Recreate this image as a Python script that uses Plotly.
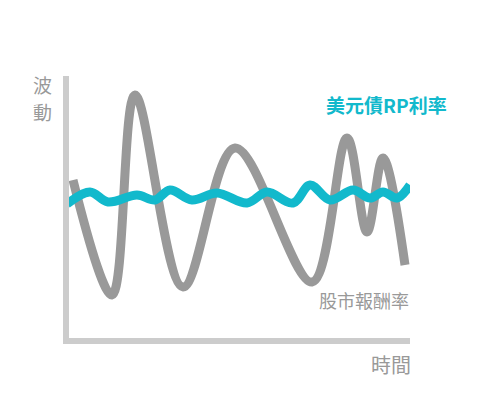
import plotly.graph_objects as go

'''示意資料：時間 vs 波動'''
# 股市報酬率
stock_t = [7, 46, 69, 117, 169, 246, 281, 301, 317, 339]
stock_v = [161, 46, 246, 54, 193, 59, 203, 109, 183, 76]
# 美元債RP利率
rp_t = [1, 24, 42, 71, 89, 104, 126, 151, 181, 201, 227, 244, 264, 287, 304, 317, 331, 344]
rp_v = [137, 149, 139, 146, 141, 151, 141, 148, 138, 149, 138, 156, 141, 151, 143, 149, 143, 156]

axis_gray = '#cccccc'
text_gray = '#999999'
cyan = '#12b9cc'
font_name = 'Noto Sans CJK TC'

fig = go.Figure()
fig.add_trace(go.Scatter(x=stock_t, y=stock_v, mode='lines', name='股市報酬率',
                         line=dict(color='#999999', width=9, shape='spline', smoothing=1.0)))
fig.add_trace(go.Scatter(x=rp_t, y=rp_v, mode='lines', name='美元債RP利率',
                         line=dict(color=cyan, width=9, shape='spline', smoothing=1.0)))

# 文字標註（paper 座標）
def label(text, x, y, xanchor, yanchor, size, color):
    fig.add_annotation(x=x, y=y, xref='paper', yref='paper', xanchor=xanchor, yanchor=yanchor,
                       text=text, showarrow=False, align='center', borderpad=0,
                       font=dict(family=font_name, size=size, color=color))

label('<b>美元債RP利率</b>', 1.11, 0.893, 'right', 'middle', 19, cyan)
label('股市報酬率', 1.0, 0.145, 'right', 'middle', 18, text_gray)
# 縱軸標題：直書兩字
label('波', -0.079, 0.966, 'center', 'middle', 19, text_gray)
label('動', -0.079, 0.864, 'center', 'middle', 19, text_gray)
label('時間', 1.005, -0.103, 'right', 'middle', 20, text_gray)

fig.update_xaxes(range=[3, 344], showline=True, linecolor=axis_gray, linewidth=6,
                 showgrid=False, zeroline=False, showticklabels=False, ticks='')
fig.update_yaxes(range=[3, 265], showline=True, linecolor=axis_gray, linewidth=6,
                 showgrid=False, zeroline=False, showticklabels=False, ticks='')
fig.update_layout(width=500, height=400, showlegend=False,
                  plot_bgcolor='white', paper_bgcolor='white',
                  margin=dict(l=61, r=98, t=68, b=70))
fig.write_html("out.html")
